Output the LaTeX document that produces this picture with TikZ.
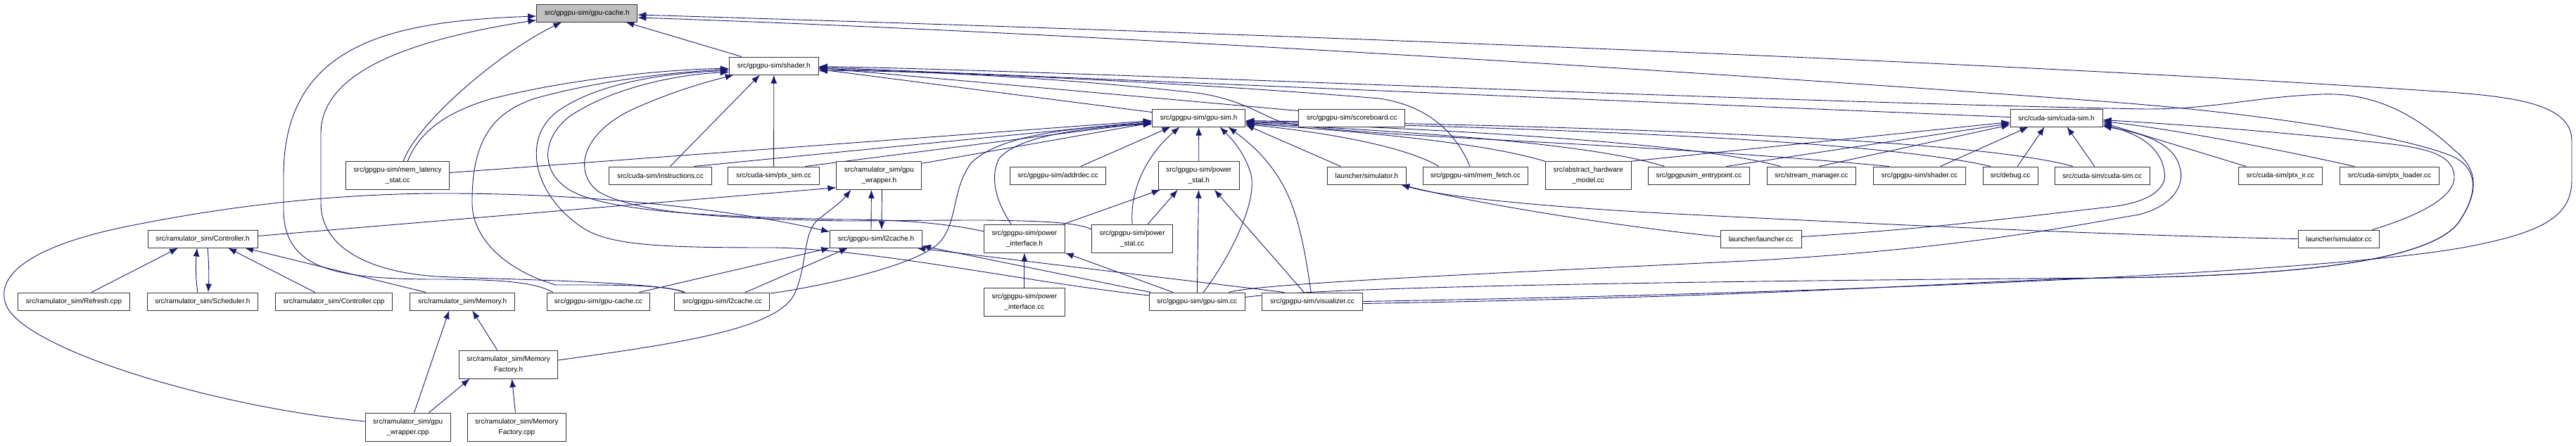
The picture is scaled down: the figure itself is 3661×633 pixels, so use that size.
\documentclass[tikz,border=0pt]{standalone}
\usepackage{fontspec}
\setmainfont{Liberation Sans}
\usetikzlibrary{arrows.meta,calc}
\definecolor{mblue}{HTML}{191970}
\pgfdeclarelayer{bg}
\pgfsetlayers{bg,main}
\tikzset{
 box/.style={draw=black!80, line width=1pt, fill=white, inner sep=0pt, align=center, font=\fontsize{10}{15}\selectfont},
 hbox/.style={box, minimum height=25pt},
 tbox/.style={box, minimum height=39.5pt},
 edge/.style={draw=mblue, line width=0.9pt, -{Latex[length=12pt,width=9pt]}},
}
\begin{document}
\begin{tikzpicture}[x=1pt,y=-1pt]
\useasboundingbox (0,0) rectangle (3661,633);
% nodes
\node[hbox,fill=black!25,minimum width=143pt] (G) at (834.3,18.5) {src/gpgpu-sim/gpu-cache.h};
\node[hbox,minimum width=127pt] (SH) at (1099.8,93.5) {src/gpgpu-sim/shader.h};
\node[hbox,minimum width=132.5pt] (GS) at (1703.6,167.5) {src/gpgpu-sim/gpu-sim.h};
\node[hbox,minimum width=150.6pt] (SB) at (1921.2,167.5) {src/gpgpu-sim/scoreboard.cc};
\node[hbox,minimum width=131pt] (CS) at (2922.6,167.5) {src/cuda-sim/cuda-sim.h};
\node[tbox,minimum width=146.5pt] (MLS) at (565.2,249.5) {src/gpgpu-sim/mem\_latency\\\_stat.cc};
\node[hbox,minimum width=145.5pt] (INS) at (938.5,249.5) {src/cuda-sim/instructions.cc};
\node[hbox,minimum width=129.3pt] (PTXS) at (1099.6,249.5) {src/cuda-sim/ptx\_sim.cc};
\node[tbox,minimum width=121pt] (GW) at (1249.4,249.5) {src/ramulator\_sim/gpu\\\_wrapper.h};
\node[hbox,minimum width=136pt] (AD) at (1503.7,249.5) {src/gpgpu-sim/addrdec.cc};
\node[tbox,minimum width=114.7pt] (PS) at (1703.8,249.5) {src/gpgpu-sim/power\\\_stat.h};
\node[hbox,minimum width=112.3pt] (LSH) at (1942.4,249.5) {launcher/simulator.h};
\node[hbox,minimum width=149.5pt] (MF) at (2097,249.5) {src/gpgpu-sim/mem\_fetch.cc};
\node[tbox,minimum width=121.8pt] (AHM) at (2257.1,249.5) {src/abstract\_hardware\\\_model.cc};
\node[hbox,minimum width=143.7pt] (EP) at (2414.4,249.5) {src/gpgpusim\_entrypoint.cc};
\node[hbox,minimum width=126.5pt] (SM) at (2574.4,249.5) {src/stream\_manager.cc};
\node[hbox,minimum width=130.4pt] (SHC) at (2727.8,249.5) {src/gpgpu-sim/shader.cc};
\node[hbox,minimum width=78.2pt] (DBG) at (2857.1,249.5) {src/debug.cc};
\node[hbox,minimum width=134.8pt] (CSC) at (2987.8,249.5) {src/cuda-sim/cuda-sim.cc};
\node[hbox,minimum width=119.3pt] (PIR) at (3241,249.5) {src/cuda-sim/ptx\_ir.cc};
\node[hbox,minimum width=141.7pt] (PL) at (3395.9,249.5) {src/cuda-sim/ptx\_loader.cc};
\node[hbox,minimum width=156.1pt] (CH) at (288.1,339.5) {src/ramulator\_sim/Controller.h};
\node[hbox,minimum width=130.6pt] (L2H) at (1245,339.5) {src/gpgpu-sim/l2cache.h};
\node[tbox,minimum width=114.7pt,minimum height=40pt] (PIH) at (1455.9,339) {src/gpgpu-sim/power\\\_interface.h};
\node[tbox,minimum width=114.7pt,minimum height=40pt] (PSC) at (1609.2,339) {src/gpgpu-sim/power\\\_stat.cc};
\node[hbox,minimum width=115pt] (LL) at (2502.6,339.5) {launcher/launcher.cc};
\node[hbox,minimum width=115.9pt] (LSC) at (3324,339.5) {launcher/simulator.cc};
\node[hbox,minimum width=158.6pt] (RF) at (105,428.5) {src/ramulator\_sim/Refresh.cpp};
\node[hbox,minimum width=157.3pt] (SCH) at (287.9,428.5) {src/ramulator\_sim/Scheduler.h};
\node[hbox,minimum width=166.8pt] (CC) at (474.5,428.5) {src/ramulator\_sim/Controller.cpp};
\node[hbox,minimum width=148.9pt] (MH) at (657.3,428.5) {src/ramulator\_sim/Memory.h};
\node[hbox,minimum width=146.7pt] (GCC) at (850.5,428.5) {src/gpgpu-sim/gpu-cache.cc};
\node[hbox,minimum width=134.9pt] (L2C) at (1026.4,428.5) {src/gpgpu-sim/l2cache.cc};
\node[tbox,minimum width=114.7pt,minimum height=40pt] (PIC) at (1455.9,429) {src/gpgpu-sim/power\\\_interface.cc};
\node[hbox,minimum width=135.6pt] (GSC) at (1701.2,428.5) {src/gpgpu-sim/gpu-sim.cc};
\node[hbox,minimum width=142.5pt] (VIS) at (1865.2,428.5) {src/gpgpu-sim/visualizer.cc};
\node[tbox,minimum width=140pt,minimum height=40pt] (MFH) at (722.6,518) {src/ramulator\_sim/Memory\\Factory.h};
\node[tbox,minimum width=121.1pt,minimum height=40pt] (GWC) at (579.7,607) {src/ramulator\_sim/gpu\\\_wrapper.cpp};
\node[tbox,minimum width=139.9pt,minimum height=40pt] (MFC) at (734.4,607) {src/ramulator\_sim/Memory\\Factory.cpp};

\begin{pgfonlayer}{bg}
% into gpu-cache.h
\draw[edge] ([xshift=9pt]GCC.north west) .. controls (760,400) and (700,397) .. (620,397) .. controls (470,397) and (405,380) .. (403,300) -- (403,250) .. controls (403,60) and (560,30) .. ([yshift=-4.5pt]G.west);
\draw[edge] ([xshift=13pt]L2C.north west) .. controls (940,400) and (700,397) .. (620,393) .. controls (520,386) and (457,350) .. (456,290) -- (456,190) .. controls (456,110) and (560,60) .. ([yshift=3pt]G.south west);
\draw[edge] ([xshift=8pt]MLS.north) .. controls (590,180) and (700,80) .. ([xshift=-36pt]G.south);
\draw[edge] ([xshift=-46pt]SH.north) -- ([xshift=55pt]G.south);
\draw[edge] (VIS.east) .. controls (2600,417) and (3300,388) .. (3500,352) .. controls (3620,330) and (3655,305) .. (3655,255) -- (3655,200) .. controls (3655,150) and (3580,138) .. (3480,131) .. controls (2800,85) and (1700,45) .. ([yshift=-2.5pt]G.east);
\draw[edge] ([yshift=6pt]GSC.east) .. controls (1900,405) and (2600,398) .. (3000,395) .. controls (3300,392) and (3460,365) .. (3495,315) .. controls (3525,270) and (3520,235) .. (3480,220) .. controls (3400,190) and (3200,160) .. (3000,145) .. controls (2400,100) and (1500,45) .. ([yshift=-6.5pt]G.east);
% into shader.h
\draw[edge] ([xshift=14pt]MLS.north) .. controls (595,190) and (630,160) .. (700,140) .. controls (820,110) and (960,98) .. ([yshift=-4pt]SH.west);
\draw[edge] ([xshift=14pt]INS.north) -- ([xshift=-20pt]SH.south);
\draw[edge] (PTXS) -- (SH);
\draw[edge] ([yshift=8pt]GS.west) -- ([yshift=-5pt]SH.east);
\draw[edge] ([yshift=10pt]SB.west) -- ([yshift=-3pt]SH.east);
\draw[edge] ([yshift=1pt]CS.west) -- ([yshift=-2pt]SH.east);
\draw[edge] ([xshift=-8pt]MF.north) .. controls (2070,190) and (2030,150) .. (1960,140) .. controls (1700,118) and (1400,105) .. ([yshift=-4pt]SH.east);
\draw[edge] ([xshift=-43pt]SHC.north) .. controls (2300,200) and (1900,195) .. (1820,173) .. controls (1790,162) and (1760,140) .. (1700,132) .. controls (1500,110) and (1300,100) .. ([yshift=-7pt]SH.east);
\draw[edge] ([yshift=-3pt]VIS.east) .. controls (2600,420) and (2800,398) .. (3000,395) .. controls (3300,392) and (3460,365) .. (3495,315) .. controls (3525,270) and (3520,240) .. (3490,215) .. controls (3420,150) and (3360,132) .. (3300,134) .. controls (3200,138) and (3150,155) .. (3050,155) .. controls (2500,145) and (1500,100) .. ([yshift=-1pt]SH.east);
\draw[edge] ([xshift=15pt]L2C.north west) .. controls (945,404) and (860,405) .. (790,405) .. controls (720,385) and (672,340) .. (671,290) .. controls (670,200) and (700,160) .. (760,140) .. controls (850,115) and (950,103) .. ([yshift=-5pt]SH.west);
\draw[edge] ([yshift=8.5pt]GSC.west) .. controls (1450,400) and (1250,355) .. (1100,352) .. controls (950,352) and (870,350) .. (830,325) .. controls (760,280) and (740,200) .. (790,160) .. controls (850,115) and (960,103) .. ([yshift=-7pt]SH.west);
\draw[edge] ([yshift=10pt]PIH.west) .. controls (1350,318) and (1280,312) .. (1200,312) .. controls (1000,308) and (870,300) .. (815,273) .. controls (770,250) and (765,200) .. (810,165) .. controls (870,125) and (960,106) .. ([yshift=-9pt]SH.west);
\draw[edge] ([yshift=13pt]PSC.west) .. controls (1530,316) and (1480,314) .. (1400,313) .. controls (1300,313) and (1250,314) .. (1200,314) .. controls (1020,311) and (900,302) .. (850,272) .. controls (815,245) and (825,190) .. (900,155) .. controls (960,128) and (1010,115) .. ([xshift=-57pt]SH.south);
% into gpu-sim.h
\draw[edge] ([yshift=4pt]MLS.east) -- ([yshift=-4pt]GS.west);
\draw[edge] ([xshift=48pt]INS.north) -- ([yshift=-5pt]GS.west);
\draw[edge] ([xshift=45pt]PTXS.north) -- ([yshift=-6pt]GS.west);
\draw[edge] ([yshift=-3pt]GW.north east) -- ([yshift=-7pt]GS.west);
\draw[edge] ([xshift=32pt]AD.north) -- ([xshift=-40pt]GS.south);
\draw[edge] (PS) -- (GS);
\draw[edge] ([yshift=11.5pt]L2C.east) .. controls (1150,410) and (1300,380) .. (1335,345) .. controls (1362,315) and (1352,270) .. (1380,232) .. controls (1420,190) and (1540,180) .. ([yshift=-8pt]GS.west);
\draw[edge] ([xshift=-19pt]PIH.north) .. controls (1418,290) and (1405,255) .. (1420,225) .. controls (1450,190) and (1560,180) .. ([yshift=-9pt]GS.west);
\draw[edge] (PSC.north) .. controls (1605,270) and (1630,220) .. ([xshift=-27pt]GS.south);
\draw[edge] ([xshift=9pt]GSC.north) .. controls (1745,370) and (1790,285) .. (1777,245) .. controls (1768,215) and (1748,195) .. ([xshift=30pt]GS.south);
\draw[edge] ([xshift=-2pt]VIS.north) .. controls (1855,360) and (1845,290) .. (1812,245) .. controls (1792,215) and (1765,195) .. ([xshift=42pt]GS.south);
\draw[edge] ([xshift=-37pt]LSH.north) -- ([yshift=-10pt]GS.east);
\draw[edge] ([xshift=-52pt]MF.north) .. controls (2000,210) and (1900,190) .. ([yshift=-9pt]GS.east);
\draw[edge] (AHM.north west) .. controls (2100,200) and (1900,185) .. ([yshift=-8pt]GS.east);
\draw[edge] ([xshift=-49pt]EP.north) .. controls (2250,200) and (1950,185) .. ([yshift=-7pt]GS.east);
\draw[edge] ([xshift=-44pt]SM.north) .. controls (2400,200) and (2000,182) .. ([yshift=-6pt]GS.east);
\draw[edge] ([xshift=-28pt]DBG.north) .. controls (2650,195) and (2100,180) .. ([yshift=-5pt]GS.east);
\draw[edge] ([xshift=-42pt]CSC.north) .. controls (2800,195) and (2200,178) .. ([yshift=-4pt]GS.east);
% into power_stat.h
\draw[edge] ([xshift=22pt]PSC.north) -- ([xshift=-30pt]PS.south);
\draw[edge] ([xshift=-2pt]PIH.north east) -- ([xshift=3pt]PS.south west);
\draw[edge] (GSC) -- (PS);
\draw[edge] ([xshift=-12pt]VIS.north) -- ([xshift=22pt]PS.south);
% into cuda-sim.h
\draw[edge] (AHM.north east) -- ([yshift=-6pt]CS.west);
\draw[edge] ([xshift=39pt]EP.north) -- ([yshift=-8pt]CS.west);
\draw[edge] ([xshift=11pt]SM.north) -- ([yshift=-10pt]CS.west);
\draw[edge] ([xshift=30pt]SHC.north) -- ([xshift=-40pt]CS.south);
\draw[edge] ([xshift=10pt]DBG.north) -- ([xshift=-17pt]CS.south);
\draw[edge] ([xshift=-11pt]CSC.north) -- ([xshift=15pt]CS.south);
\draw[edge] ([xshift=-49pt]PIR.north) -- ([yshift=-7pt]CS.east);
\draw[edge] ([xshift=-50pt]PL.north) .. controls (3250,215) and (3100,185) .. ([yshift=-5pt]CS.east);
\draw[edge] ([xshift=-11pt]LSC.north east) .. controls (3420,312) and (3490,285) .. (3488,250) .. controls (3486,222) and (3455,212) .. (3400,205) .. controls (3250,188) and (3100,177) .. ([yshift=-3pt]CS.east);
\draw[edge] ([yshift=3pt]LL.east) .. controls (2750,325) and (2900,305) .. (3000,294) .. controls (3060,287) and (3080,265) .. (3076,245) .. controls (3072,210) and (3040,190) .. ([yshift=-10pt]CS.east);
\draw[edge] ([xshift=-23pt]GSC.north east) .. controls (1790,402) and (2200,385) .. (2500,370) .. controls (2800,352) and (2950,320) .. (3040,305) .. controls (3090,292) and (3105,262) .. (3098,238) .. controls (3090,205) and (3050,190) .. ([yshift=-12pt]CS.east);
% into launcher/simulator.h
\draw[edge] ([yshift=3pt]LL.west) .. controls (2300,322) and (2100,290) .. ([xshift=-8pt]LSH.south east);
\draw[edge] (LSC.west) .. controls (3000,335) and (2600,315) .. (2400,305) .. controls (2200,295) and (2050,280) .. ([xshift=-8pt]LSH.south east);
% gpu_wrapper.h / l2cache.h
\draw[edge] ([xshift=4pt]GW.south) -- ([xshift=8pt]L2H.north);
\draw[edge] ([xshift=-7pt]L2H.north) -- ([xshift=-11pt]GW.south);
\draw[edge] ([yshift=4pt]CH.east) -- ([yshift=3pt]GW.south west);
\draw[edge] ([yshift=6pt]MFH.east) .. controls (950,490) and (1100,470) .. (1128,420) .. controls (1148,380) and (1140,330) .. (1163,312) .. controls (1180,298) and (1195,288) .. ([xshift=-40pt]GW.south);
\draw[edge] ([xshift=58pt]GCC.north) -- (L2H.south west);
\draw[edge] ([xshift=33pt]L2C.north) -- ([xshift=-40pt]L2H.south);
\draw[edge] ([xshift=-66pt]GSC.north) -- ([yshift=3pt]L2H.south east);
\draw[edge] ([xshift=-40pt]VIS.north) -- ([xshift=-8pt]L2H.south east);
\draw[edge] ([yshift=8pt]GWC.west) .. controls (300,578) and (30,495) .. (8,432) .. controls (-8,385) and (60,345) .. (190,320) .. controls (300,298) and (450,276) .. (620,275) .. controls (850,274) and (1050,300) .. ([yshift=10pt]L2H.west);
% power_interface.h
\draw[edge] (PIC) -- (PIH);
\draw[edge] ([xshift=-34pt]GSC.north) -- (PIH.south east);
% ramulator
\draw[edge] ([xshift=25pt]RF.north) -- ([xshift=-35pt]CH.south);
\draw[edge] ([xshift=-7pt]SCH.north) .. controls (278,395) and (278,375) .. ([xshift=-8pt]CH.south);
\draw[edge] ([xshift=7pt]CH.south) .. controls (297,375) and (297,395) .. ([xshift=8pt]SCH.north);
\draw[edge] ([xshift=-27pt]CC.north) -- ([xshift=36pt]CH.south);
\draw[edge] ([xshift=-52pt]MH.north) -- ([xshift=60pt]CH.south);
\draw[edge] ([xshift=9pt]GWC.north) -- ([xshift=-19pt]MH.south);
\draw[edge] ([xshift=-16pt]MFH.north) -- ([xshift=14pt]MH.south);
\draw[edge] ([xshift=30pt]GWC.north) -- ([xshift=-55pt]MFH.south);
\draw[edge] ([xshift=-2pt]MFC.north) -- ([xshift=5pt]MFH.south);
\end{pgfonlayer}
\end{tikzpicture}
\end{document}
